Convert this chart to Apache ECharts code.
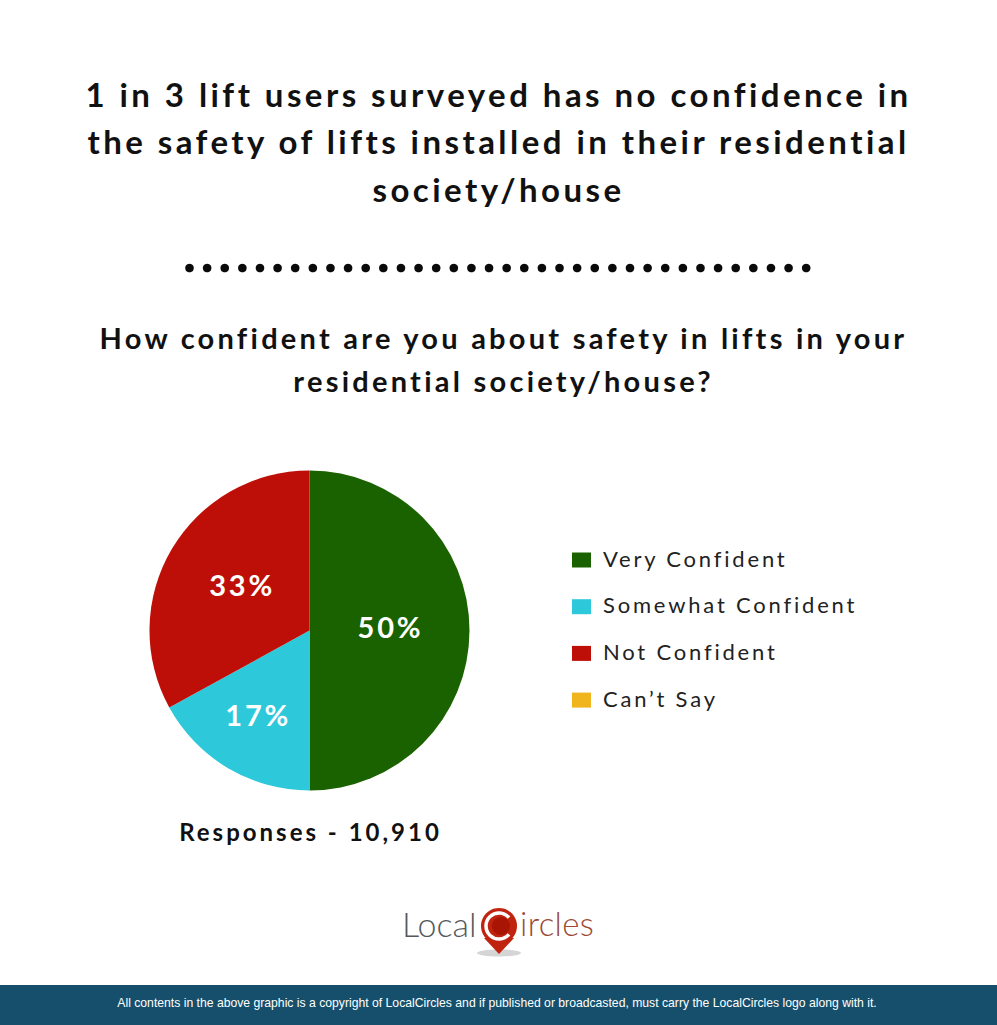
<!DOCTYPE html>
<html>
<head>
<meta charset="utf-8">
<style>
html,body{margin:0;padding:0;background:#fff}
#chart{width:997px;height:1025px}
</style>
<script src="https://cdn.jsdelivr.net/npm/echarts@6/dist/echarts.min.js"></script>
</head>
<body>
<div id="chart"></div>
<script>
var categories=['Very Confident','Somewhat Confident','Not Confident',"Can\u2019t Say"];
var values=[50,17,33,0];
var colors=['#1a6200','#2ec8db','#bd0f07','#f0b41c'];
var labelOffsets=[[-2,-4],[-9,13],[4,-4],[0,0]];
var headline='1 in 3 lift users surveyed has no confidence in\nthe safety of lifts installed in their residential\nsociety/house';
var question='How confident are you about safety in lifts in your\nresidential society/house?';
var responses='Responses - 10,910';
var footer='All contents in the above graphic is a copyright of LocalCircles and if published or broadcasted, must carry the LocalCircles logo along with it.';
var FONT='Lato';

var myChart=echarts.init(document.getElementById('chart'),null,{renderer:'svg',width:997,height:1025});

// row of dots under the headline
var dots=[];
for(var i=0;i<36;i++){
	dots.push({type:'circle',shape:{cx:189.5+i*17.62,cy:268,r:4.3},style:{fill:'#0a0a0a'},silent:true});
}

var seriesData=[];
categories.forEach(function(name,i){
	seriesData.push({
		name:name,value:values[i],itemStyle:{color:colors[i]},
		label:{show:values[i]>0,offset:labelOffsets[i]}
	});
});

var option={
	backgroundColor:'#fff',
	animation:false,
	title:[
		{text:headline,left:'center',top:65,textStyle:{fontFamily:FONT,fontWeight:'bold',fontSize:33,lineHeight:47.5,color:'#111'}},
		{text:question,left:498.5,textAlign:'center',top:311,textStyle:{fontFamily:FONT,fontWeight:'bold',fontSize:29,lineHeight:43,color:'#111'}},
		{text:responses,left:305.5,textAlign:'center',top:814,textStyle:{fontFamily:FONT,fontWeight:'bold',fontSize:24,color:'#111'}}
	],
	legend:{
		orient:'vertical',left:572,top:549,padding:0,
		icon:'rect',itemWidth:19,itemHeight:15,itemGap:24.7,
		selectedMode:false,
		textStyle:{fontFamily:FONT,fontSize:22,color:'#222',padding:[0,0,0,7],lineHeight:22},
		data:categories
	},
	series:[{
		type:'pie',
		center:[309.5,630.5],
		radius:[0,160],
		startAngle:90,
		clockwise:true,
		label:{position:'inner',formatter:'{d}%',fontFamily:FONT,fontWeight:'bold',fontSize:29,color:'#fff'},
		labelLine:{show:false},
		emphasis:{disabled:true},
		data:seriesData
	}],
	graphic:dots.concat([
		{type:'rect',shape:{x:0,y:985,width:997,height:40},style:{fill:'#154f6b'},silent:true},
		{type:'text',x:497,y:1003,style:{text:footer,fill:'#fff',font:'12.2px "Liberation Sans"',textAlign:'center',textVerticalAlign:'middle'},silent:true},
		// logo
		{type:'text',x:402,y:923,style:{text:'Local',fill:'#55595c',font:'300 34px Lato',textAlign:'left',textVerticalAlign:'middle'},silent:true},
		{type:'text',x:520,y:923,style:{text:'ircles',fill:'#9c4a36',font:'300 33px Lato',textAlign:'left',textVerticalAlign:'middle'},silent:true},
		{type:'ellipse',shape:{cx:499,cy:953,rx:22,ry:3.5},style:{fill:'#d5d5d5'},silent:true},
		{type:'polygon',shape:{points:[[484,938],[514,938],[499,954]]},style:{fill:'#c0230f'},silent:true},
		{type:'circle',shape:{cx:499,cy:926,r:18},style:{fill:'#c0230f'},silent:true},
		{type:'arc',shape:{cx:499,cy:926,r:13,startAngle:-0.7,endAngle:0.7,clockwise:false},style:{stroke:'#fff',lineWidth:3.5,fill:'none'},silent:true},
		{type:'circle',shape:{cx:501,cy:926,r:9},style:{fill:'#a81505'},silent:true}
	])
};
myChart.setOption(option);

// the svg text can take css letter spacing, canvas text can not
function spaceText(){
	var texts=document.querySelectorAll('#chart text');
	Array.prototype.forEach.call(texts,function(t){
		var s=t.textContent,sp=0;
		if(s.indexOf('All contents')==0||s=='Local'){sp=0;}
		else if(s=='ircles'){sp=0.3;}
		else if(categories.indexOf(s)>=0){sp=2.8;t.setAttribute('dy','-2');}
		else if(s.indexOf('%')>0){sp=2.8;}
		else if(s==responses){sp=3;}
		else if(headline.indexOf(s)>=0){sp=3.45;}
		else{sp=3.25;}
		t.style.letterSpacing=sp+'px';
	});
}
spaceText();
myChart.on('finished',spaceText);
</script>
</body>
</html>
